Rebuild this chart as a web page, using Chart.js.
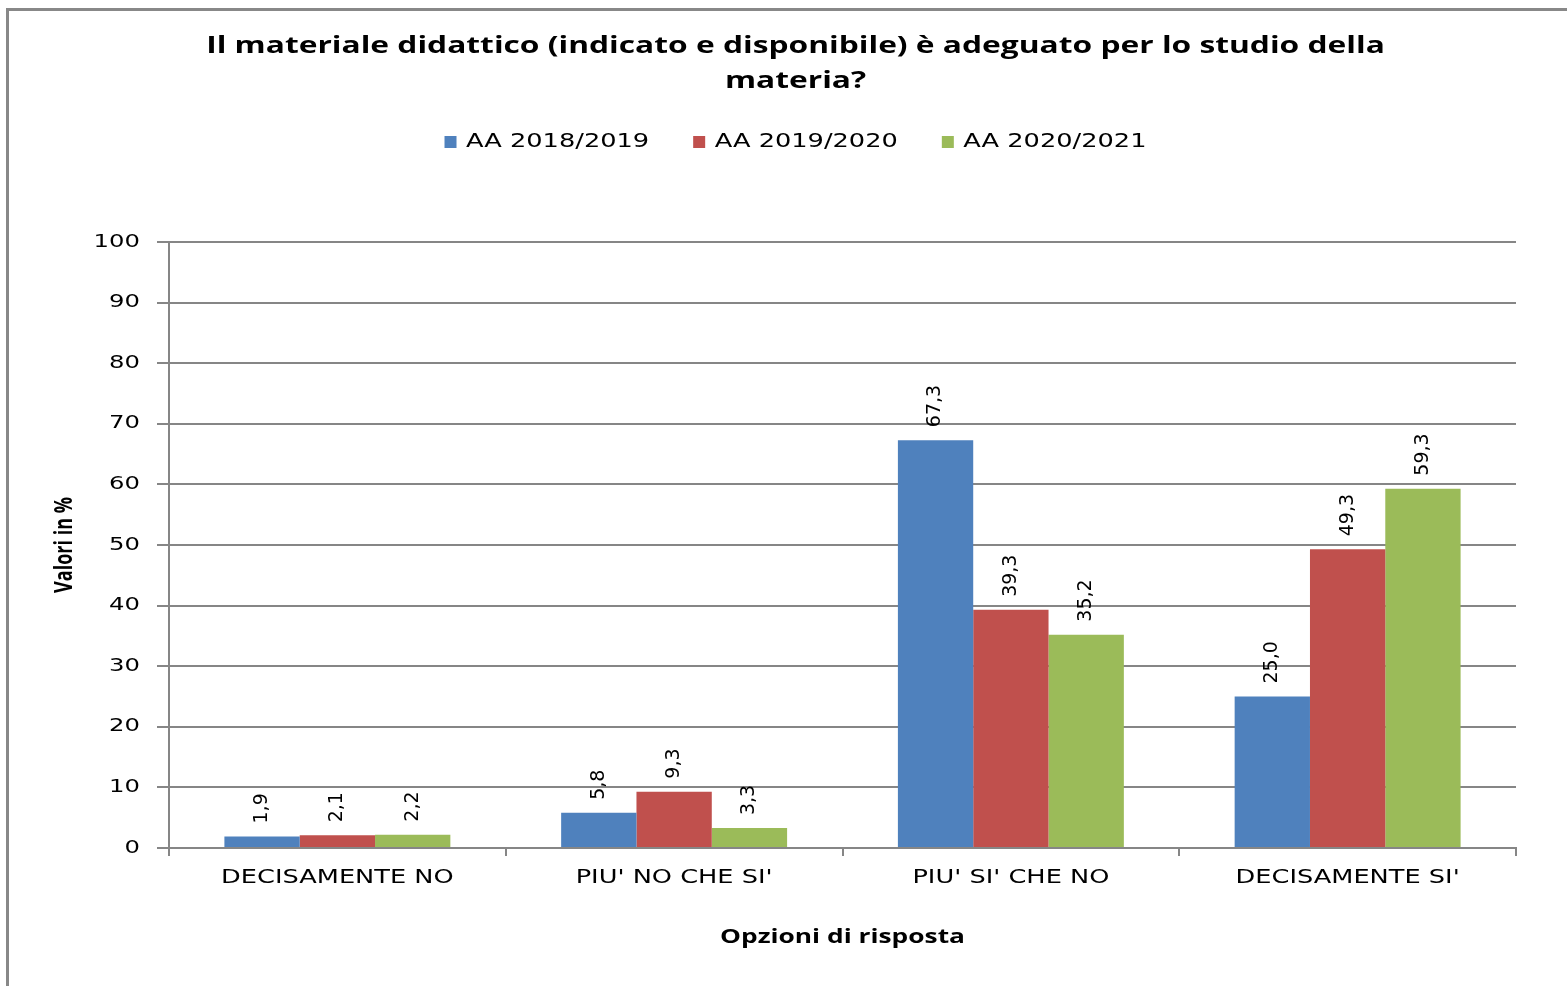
<!DOCTYPE html>
<html>
<head>
<meta charset="utf-8">
<script src="https://cdn.jsdelivr.net/npm/chart.js@4/dist/chart.umd.min.js"></script>
<style>
  html, body { margin: 0; padding: 0; background: #fff; overflow: hidden; }
  #wrap { position: absolute; left: 0; top: 0; width: 1567px; height: 986px; }
  #frame { position: absolute; left: 6px; top: 8px; width: 1600px; height: 1000px;
           border-left: 3px solid #888; border-top: 3px solid #888; pointer-events: none; }
</style>
</head>
<body>
<div id="wrap"><canvas id="c"></canvas></div>
<div id="frame"></div>
<script>
const categories = ["DECISAMENTE NO", "PIU' NO CHE SI'", "PIU' SI' CHE NO", "DECISAMENTE SI'"];
const seriesNames = ["AA 2018/2019", "AA 2019/2020", "AA 2020/2021"];
const values2018 = [1.9, 5.8, 67.3, 25.0];
const values2019 = [2.1, 9.3, 39.3, 49.3];
const values2020 = [2.2, 3.3, 35.2, 59.3];
const yTicks = [0, 10, 20, 30, 40, 50, 60, 70, 80, 90, 100];
const colors = ["#4F81BD", "#C0504D", "#9BBB59"];
const titleLines = ["Il materiale didattico (indicato e disponibile) è adeguato per lo studio della", "materia?"];
const yTitle = "Valori in %";
const xTitle = "Opzioni di risposta";

const gridColor = "#868686";

// The reference text is horizontally widened; reproduce that by stretching glyphs on screen.
const SX = 1.35;
(function () {
  const proto = CanvasRenderingContext2D.prototype;
  const origFill = proto.fillText;
  const origMeasure = proto.measureText;
  proto.fillText = function (text, x, y, maxWidth) {
    if (this.__noStretch) {
      return maxWidth === undefined ? origFill.call(this, text, x, y) : origFill.call(this, text, x, y, maxWidth);
    }
    const m = this.getTransform();
    const p = m.transformPoint(new DOMPoint(x, y));
    const n = new DOMMatrix().translate(p.x, p.y).scale(SX, 1).translate(-p.x, -p.y).multiply(m);
    this.save();
    this.setTransform(n);
    if (maxWidth === undefined) origFill.call(this, text, x, y);
    else origFill.call(this, text, x, y, maxWidth / SX);
    this.restore();
  };
  proto.measureText = function (text) {
    const r = origMeasure.call(this, text);
    if (this.__noStretch) return r;
    return {
      width: r.width * SX,
      actualBoundingBoxAscent: r.actualBoundingBoxAscent,
      actualBoundingBoxDescent: r.actualBoundingBoxDescent,
      actualBoundingBoxLeft: r.actualBoundingBoxLeft * SX,
      actualBoundingBoxRight: r.actualBoundingBoxRight * SX,
      fontBoundingBoxAscent: r.fontBoundingBoxAscent,
      fontBoundingBoxDescent: r.fontBoundingBoxDescent
    };
  };
})();

const valueLabels = {
  id: "valueLabels",
  afterDatasetsDraw(chart) {
    const ctx = chart.ctx;
    ctx.save();
    ctx.__noStretch = true;
    ctx.font = "19px 'DejaVu Sans'";
    ctx.fillStyle = "#000";
    ctx.textAlign = "left";
    ctx.textBaseline = "middle";
    chart.data.datasets.forEach((ds, di) => {
      const meta = chart.getDatasetMeta(di);
      meta.data.forEach((bar, i) => {
        const txt = ds.data[i].toFixed(1).replace(".", ",");
        ctx.save();
        ctx.translate(bar.x, bar.y - 13);
        ctx.rotate(-Math.PI / 2);
        ctx.fillText(txt, 0, 0);
        ctx.restore();
      });
    });
    ctx.__noStretch = false;
    ctx.restore();
  }
};

const datasets = [values2018, values2019, values2020].map((v, i) => ({
  label: seriesNames[i],
  data: v,
  backgroundColor: colors[i],
  borderWidth: 0,
  categoryPercentage: 0.671,
  barPercentage: 1.0
}));

const PAD_LEFT = 24;

new Chart(document.getElementById("c"), {
  type: "bar",
  data: { labels: categories, datasets },
  plugins: [valueLabels],
  options: {
    responsive: true,
    maintainAspectRatio: false,
    animation: false,
    layout: { padding: { left: PAD_LEFT, right: 0, top: 0, bottom: 0 } },
    plugins: {
      tooltip: { enabled: false },
      title: {
        display: true,
        text: titleLines,
        color: "#000",
        font: { family: "'Open Sans'", size: 23.5, weight: "bold", lineHeight: 1.49 },
        padding: { top: 28.5, bottom: -10 }
      },
      legend: {
        display: true,
        labels: {
          color: "#000",
          font: { family: "'DejaVu Sans'", size: 19 },
          boxWidth: 12,
          boxHeight: 12,
          padding: 44
        }
      },
      subtitle: {
        display: true,
        text: "",
        weight: 500,
        font: { size: 1, lineHeight: 1 },
        padding: { top: 0, bottom: 79.5 }
      }
    },
    scales: {
      x: {
        afterFit(s) { s.height = 138; },
        grid: { display: true, drawOnChartArea: false, drawTicks: true, tickLength: 8, color: gridColor, lineWidth: 2, offset: true },
        border: { display: true, color: gridColor, width: 2 },
        ticks: { color: "#000", font: { family: "'DejaVu Sans'", size: 19 }, padding: 11, maxRotation: 0 },
        title: {
          display: true, text: xTitle, color: "#000",
          font: { family: "'Open Sans'", size: 19.5, weight: "bold", lineHeight: 1.2 },
          padding: { top: 0, bottom: 37 }
        }
      },
      y: {
        min: 0, max: 100,
        afterFit(s) { s.width = 169 - PAD_LEFT; },
        afterBuildTicks(s) { s.ticks = yTicks.map(v => ({ value: v })); },
        grid: { color: gridColor, lineWidth: 2, tickLength: 12, drawTicks: true },
        border: { display: true, color: gridColor, width: 2 },
        ticks: { color: "#000", font: { family: "'DejaVu Sans'", size: 18 }, padding: 17 },
        title: {
          display: true, text: yTitle, color: "#000",
          font: { family: "'Open Sans'", size: 18, weight: "bold", lineHeight: 1.2 },
          padding: { top: 54.2 - PAD_LEFT, bottom: 0 }
        }
      },
      yRightSpacer: {
        type: "linear",
        position: "right",
        display: true,
        afterFit(s) { s.width = 51; },
        grid: { display: false, drawTicks: false },
        border: { display: false },
        ticks: { display: false }
      }
    }
  }
});
</script>
</body>
</html>
